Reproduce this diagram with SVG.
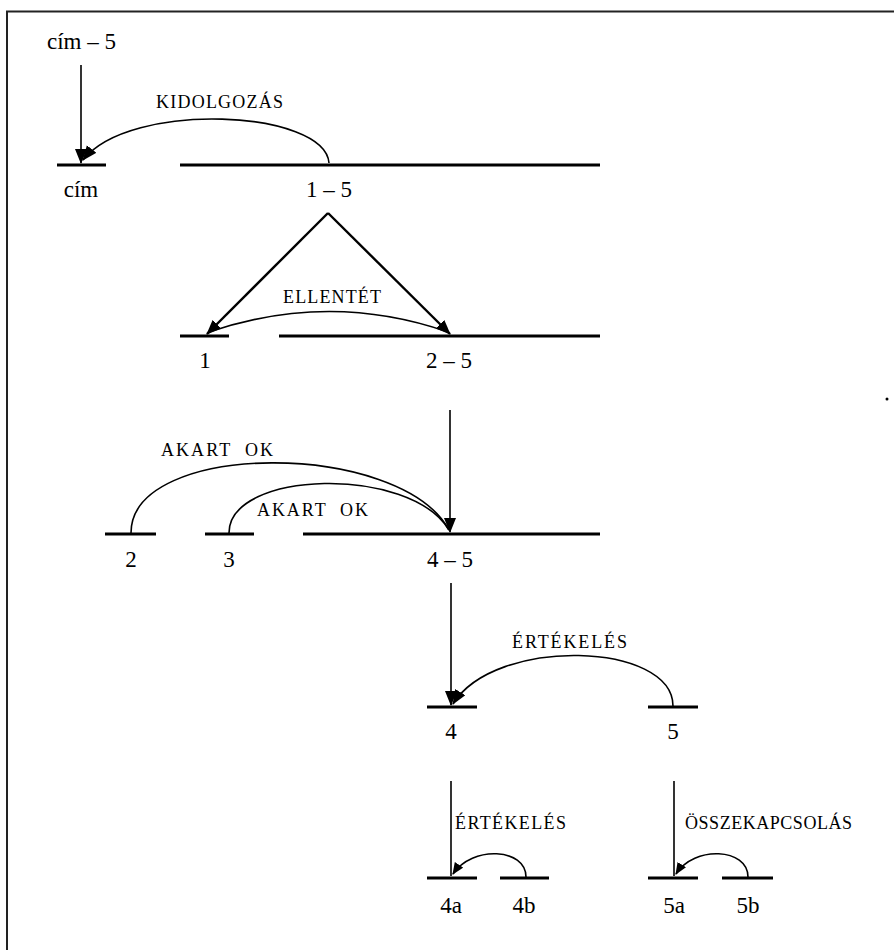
<svg xmlns="http://www.w3.org/2000/svg" width="894" height="950" viewBox="0 0 894 950">
<style>
.seg{stroke:#000;stroke-width:3;fill:none}
.ln{stroke:#000;stroke-width:1.6;fill:none}
.tri{stroke:#000;stroke-width:2.4;fill:none}
.lab{font-size:23px;fill:#000;text-anchor:middle}
.rel{font-size:18px;fill:#000}
</style>
<defs>
<marker id="ah" markerUnits="userSpaceOnUse" markerWidth="17" markerHeight="13" refX="14" refY="6" orient="auto">
<path d="M0,0 L15,6 L0,12 Z" fill="#000"/>
</marker>
<marker id="ahs" markerUnits="userSpaceOnUse" markerWidth="14" markerHeight="11" refX="11" refY="5" orient="auto">
<path d="M0,0 L12,5 L0,10 Z" fill="#000"/>
</marker>
</defs>
<rect width="894" height="950" fill="#fff"/>
<path d="M7,950 V11.5 H894" stroke="#222" stroke-width="2" fill="none"/>
<circle cx="887" cy="399" r="1.5" fill="#000"/>

<g id="nodes" font-family="Liberation Serif, Times New Roman, serif">
<g id="n-cim5"><text class="lab" x="81.5" y="49">cím – 5</text></g>
<g id="n-cim"><line class="seg" x1="57" y1="165" x2="106" y2="165"/><text class="lab" x="81" y="197">cím</text></g>
<g id="n-1-5"><line class="seg" x1="180" y1="165" x2="600" y2="165"/><text class="lab" x="329" y="197">1 – 5</text></g>
<g id="n-1"><line class="seg" x1="180" y1="336" x2="229" y2="336"/><text class="lab" x="205" y="368">1</text></g>
<g id="n-2-5"><line class="seg" x1="279" y1="336" x2="600" y2="336"/><text class="lab" x="449" y="368">2 – 5</text></g>
<g id="n-2"><line class="seg" x1="105" y1="534" x2="156" y2="534"/><text class="lab" x="131" y="567">2</text></g>
<g id="n-3"><line class="seg" x1="205" y1="534" x2="254" y2="534"/><text class="lab" x="229" y="567">3</text></g>
<g id="n-4-5"><line class="seg" x1="303" y1="534" x2="600" y2="534"/><text class="lab" x="450" y="567">4 – 5</text></g>
<g id="n-4"><line class="seg" x1="427" y1="707" x2="477" y2="707"/><text class="lab" x="451" y="739">4</text></g>
<g id="n-5"><line class="seg" x1="648" y1="707" x2="698" y2="707"/><text class="lab" x="673" y="739">5</text></g>
<g id="n-4a"><line class="seg" x1="427" y1="878" x2="477" y2="878"/><text class="lab" x="451" y="913">4a</text></g>
<g id="n-4b"><line class="seg" x1="500" y1="878" x2="549" y2="878"/><text class="lab" x="524" y="913">4b</text></g>
<g id="n-5a"><line class="seg" x1="648" y1="878" x2="698" y2="878"/><text class="lab" x="674" y="913">5a</text></g>
<g id="n-5b"><line class="seg" x1="722" y1="878" x2="773" y2="878"/><text class="lab" x="748" y="913">5b</text></g>
</g>

<g id="connectors">
<line class="ln" x1="81" y1="65" x2="81" y2="163" marker-end="url(#ah)"/>
<path class="ln" d="M329,163 C325,110 130,100 83,160" marker-end="url(#ah)"/>
<line class="tri" x1="328" y1="213" x2="207" y2="334" marker-end="url(#ah)"/>
<line class="tri" x1="328" y1="213" x2="450" y2="334" marker-end="url(#ah)"/>
<path class="ln" d="M448,332 Q330,291 209,332"/>
<line class="ln" x1="450" y1="410" x2="450" y2="532" marker-end="url(#ah)"/>
<path class="ln" d="M131,533 C131,440 400,440 449,530"/>
<path class="ln" d="M229,533 C229,470 410,465 449,530"/>
<line class="ln" x1="451" y1="583" x2="451" y2="705" marker-end="url(#ah)"/>
<path class="ln" d="M673,706 C673,642 495,636 453,704" marker-end="url(#ah)"/>
<line class="ln" x1="451" y1="781" x2="451" y2="876"/>
<path class="ln" d="M526,877 C526,848 472,845 453,874" marker-end="url(#ahs)"/>
<line class="ln" x1="674" y1="781" x2="674" y2="876"/>
<path class="ln" d="M748,877 C748,848 694,845 676,874" marker-end="url(#ahs)"/>
</g>

<g id="labels" font-family="Liberation Serif, Times New Roman, serif">
<text class="rel" x="156" y="108" textLength="127">KIDOLGOZÁS</text>
<text class="rel" x="283" y="303" textLength="98">ELLENTÉT</text>
<text class="rel" x="161" y="456" textLength="112" xml:space="preserve">AKART  OK</text>
<text class="rel" x="257" y="516" textLength="111" xml:space="preserve">AKART  OK</text>
<text class="rel" x="512" y="648" textLength="115">ÉRTÉKELÉS</text>
<text class="rel" x="455" y="829" textLength="111">ÉRTÉKELÉS</text>
<text class="rel" x="685" y="829" textLength="167">ÖSSZEKAPCSOLÁS</text>
</g>
</svg>
